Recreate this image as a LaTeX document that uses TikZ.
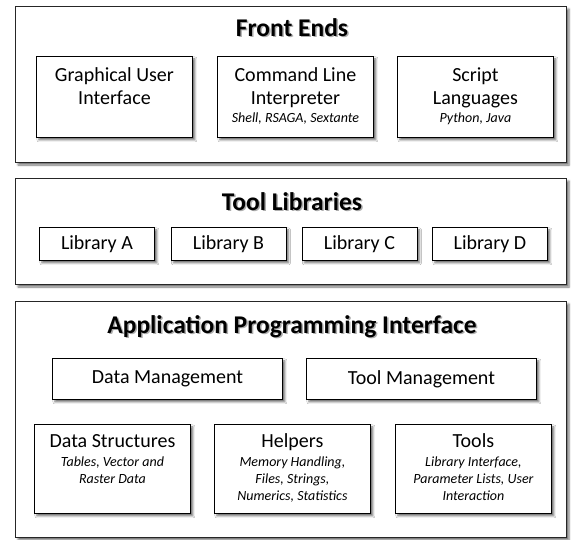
\documentclass[tikz,border=0pt]{standalone}
\usepackage{fontspec}
\setmainfont{Carlito}
\usetikzlibrary{shadows.blur}
\newcommand\bodyf{\fontsize{20pt}{23pt}\selectfont}
\newcommand\itf{\fontsize{14pt}{17pt}\selectfont\itshape}
\newcommand\ttlf{\fontsize{25.5pt}{30pt}\selectfont\bfseries}
\newcommand\topbox[4]{\parbox[c][#2][t]{#1}{\centering\rule{0pt}{#3}#4}}
\tikzset{
  shad/.style={blur shadow={shadow xshift=2.5pt, shadow yshift=-2.5pt, shadow blur radius=2pt, shadow opacity=55}},
  panel/.style={draw=black!85, line width=1pt, fill=white, anchor=north west, inner sep=0pt, shad},
  block/.style={draw=black, line width=0.9pt, fill=white, anchor=north west, inner sep=0pt, shad, font=\bodyf},
  ttl/.style={font=\ttlf, anchor=base, inner sep=0pt},
  ttlshadow/.style={font=\ttlf, anchor=base, inner sep=0pt, text=black!40, opacity=0.8},
}
\begin{document}
\begin{tikzpicture}[x=1pt, y=-1pt]
\useasboundingbox (0,0) rectangle (571,539);
% ---------- Front Ends ----------
\node[panel, minimum width=551pt, minimum height=156pt] (fe) at (15,6) {};
\node[ttlshadow] (feS) at (293.5,37.5) {Front Ends};
\node[ttl] (feT) at (292,36) {Front Ends};
\node[block] (gui) at (36,56) {\topbox{156pt}{81pt}{25pt}{Graphical User\\Interface}};
\node[block] (cli) at (217,56) {\topbox{156pt}{81pt}{25pt}{Command Line\\Interpreter\par\vspace{1.5pt}{\itf Shell, RSAGA, Sextante\par}}};
\node[block] (scr) at (397,56) {\topbox{156pt}{81pt}{25pt}{Script\\Languages\par\vspace{1.5pt}{\itf Python, Java\par}}};
% ---------- Tool Libraries ----------
\node[panel, minimum width=551pt, minimum height=106pt] (tl) at (15,178) {};
\node[ttlshadow] (tlS) at (293.5,211.5) {Tool Libraries};
\node[ttl] (tlT) at (292,210) {Tool Libraries};
\node[block, minimum width=115pt, minimum height=33pt] (la) at (39,227) {Library A};
\node[block, minimum width=115pt, minimum height=33pt] (lb) at (170.5,227) {Library B};
\node[block, minimum width=115pt, minimum height=33pt] (lc) at (301.5,227) {Library C};
\node[block, minimum width=115pt, minimum height=33pt] (ld) at (432,227) {Library D};
% ---------- API ----------
\node[panel, minimum width=551pt, minimum height=236pt] (api) at (15,301) {};
\node[ttlshadow] (apiS) at (293.5,334.5) {Application Programming Interface};
\node[ttl] (apiT) at (292,333) {Application Programming Interface};
\node[block, minimum width=230pt, minimum height=41pt] (dm) at (52,358) {Data Management};
\node[block, minimum width=230pt, minimum height=41pt] (tm) at (306,358) {Tool Management};
\node[block] (ds) at (34,424) {\topbox{156pt}{89pt}{23.5pt}{Data Structures\par\vspace{1.5pt}{\itf Tables, Vector and\\Raster Data\par}}};
\node[block] (hl) at (214,424) {\topbox{156pt}{89pt}{23.5pt}{Helpers\par\vspace{1.5pt}{\itf Memory Handling,\\Files, Strings,\\Numerics, Statistics\par}}};
\node[block] (to) at (395,424) {\topbox{156pt}{89pt}{23.5pt}{Tools\par\vspace{1.5pt}{\itf Library Interface,\\Parameter Lists, User\\Interaction\par}}};
\end{tikzpicture}
\end{document}
